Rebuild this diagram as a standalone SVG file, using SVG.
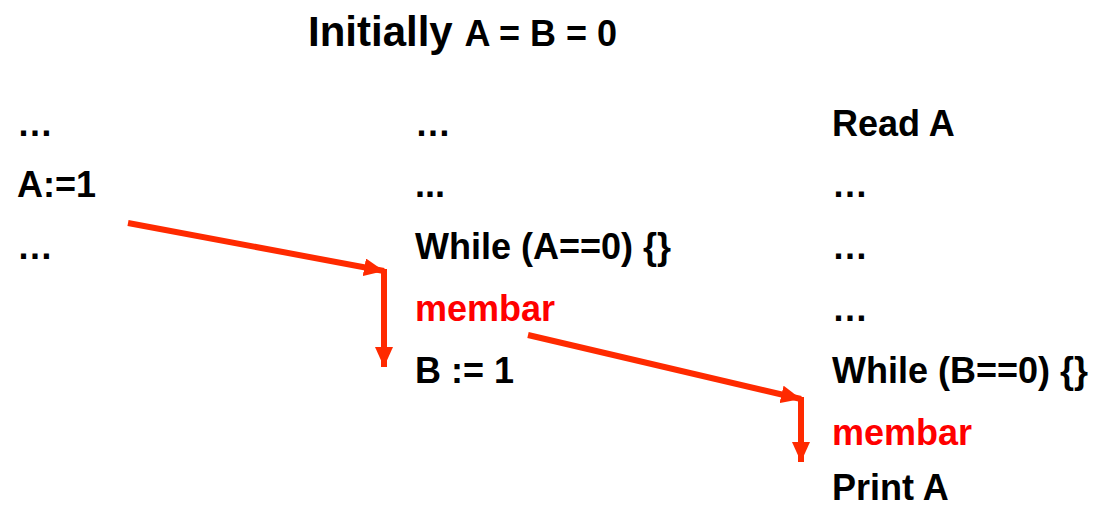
<svg xmlns="http://www.w3.org/2000/svg" width="1097" height="508" viewBox="0 0 1097 508">
<style>
text{font-family:"Liberation Sans",Arial,sans-serif;font-weight:bold;fill:#000}
.c{font-size:36px}
.r{fill:#FF0000}
.ln{stroke:#FF2A00;stroke-width:6;fill:none}
</style>
<defs>
<marker id="ah" markerUnits="userSpaceOnUse" markerWidth="20" markerHeight="18" viewBox="0 0 20 18" refX="20" refY="9" orient="auto">
<path d="M0,0 L20,9 L0,18 Z" fill="#FF2A00"/>
</marker>
</defs>
<rect width="1097" height="508" fill="#fff"/>
<g id="title"><text x="308" y="46" style="font-size:42px">Initially <tspan style="font-size:36px">A = B = 0</tspan></text></g>
<g id="col1">
<text class="c" x="17" y="136">…</text>
<text class="c" x="17" y="197">A:=1</text>
<text class="c" x="17" y="259">…</text>
</g>
<g id="col2">
<text class="c" x="415" y="136">…</text>
<text class="c" x="415" y="197">...</text>
<text class="c" x="415" y="259">While (A==0) {}</text>
<text class="c r" x="415" y="321">membar</text>
<text class="c" x="415" y="383">B := 1</text>
</g>
<g id="col3">
<text class="c" x="832" y="136">Read A</text>
<text class="c" x="832" y="197">…</text>
<text class="c" x="832" y="259">…</text>
<text class="c" x="832" y="321">…</text>
<text class="c" x="832" y="383">While (B==0) {}</text>
<text class="c r" x="832" y="445">membar</text>
<text class="c" x="832" y="500">Print A</text>
</g>
<g id="connectors">
<path class="ln" d="M128,223 L384,271" marker-end="url(#ah)"/>
<path class="ln" d="M384,269 L384,367" marker-end="url(#ah)"/>
<path class="ln" d="M528,335 L801,399" marker-end="url(#ah)"/>
<path class="ln" d="M801,397 L801,462" marker-end="url(#ah)"/>
</g>
</svg>
